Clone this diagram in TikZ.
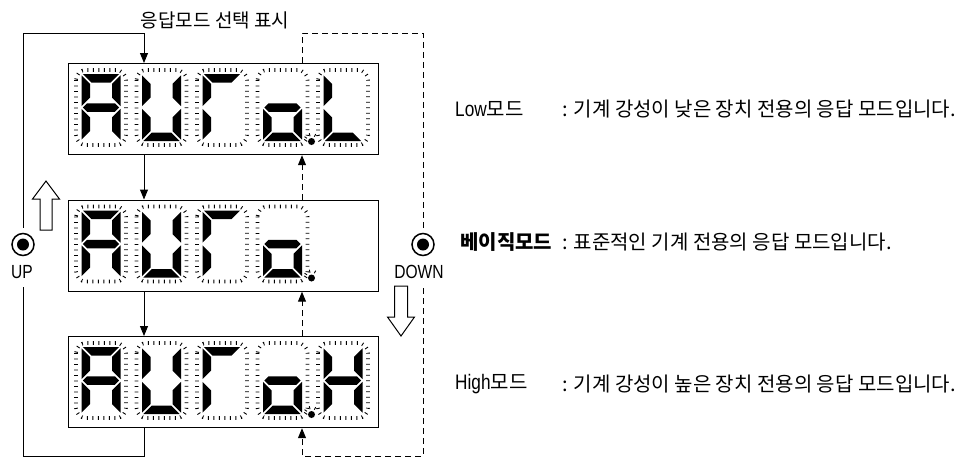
\documentclass[tikz,border=0pt]{standalone}
\usepackage{fontspec}
\usetikzlibrary{arrows.meta}
\newfontfamily\kr{Noto Sans CJK KR}
\newfontfamily\lat[FakeStretch=0.82]{Liberation Sans}
\tikzset{
  line/.style={line width=1pt},
  dispbox/.style={draw, line width=1.2pt, minimum width=310pt, minimum height=91pt, inner sep=0pt, anchor=north west},
  ringline/.style={line width=3.6pt, dash pattern=on 0.9pt off 4.6pt, rounded corners=10pt},
  conn/.style={line width=1pt, -{Triangle[length=10pt,width=8pt]}},
  dline/.style={line width=1pt, dash pattern=on 6pt off 4pt},
  dconn/.style={dline, -{Triangle[length=10pt,width=8pt]}},
  btn/.style={circle, draw, line width=1.5pt, minimum size=22pt, inner sep=0pt},
  ttxt/.style={font={\kr\fontsize{19pt}{21pt}\selectfont}, inner sep=0pt},
  ktxt/.style={font={\kr\fontsize{20pt}{22pt}\selectfont}, inner sep=0pt},
  ltxt/.style={font={\lat\fontsize{19pt}{21pt}\selectfont}, inner sep=0pt},
  ray/.style={line width=0.9pt},
  hollow/.style={draw, line width=1pt, fill=white},
}
\newcommand\sga[2]{\fill[shift={(#1,#2)}] (6.9,4)--(43.1,4)--(34.6,12.5)--(15.4,12.5)--cycle;}
\newcommand\sgb[2]{\fill[shift={(#1,#2)}] (44.5,5.4)--(36,13.9)--(36,27.6)--(44.5,36.1)--cycle;}
\newcommand\sgc[2]{\fill[shift={(#1,#2)}] (44.5,38.9)--(36,47.4)--(36,61.1)--(44.5,69.6)--cycle;}
\newcommand\sgd[2]{\fill[shift={(#1,#2)}] (6.9,71)--(43.1,71)--(34.6,62.5)--(15.4,62.5)--cycle;}
\newcommand\sge[2]{\fill[shift={(#1,#2)}] (5.5,38.9)--(14,47.4)--(14,61.1)--(5.5,69.6)--cycle;}
\newcommand\sgf[2]{\fill[shift={(#1,#2)}] (5.5,5.4)--(14,13.9)--(14,27.6)--(5.5,36.1)--cycle;}
\newcommand\sgg[2]{\fill[shift={(#1,#2)}] (6.9,37.5)--(11.15,33.25)--(38.85,33.25)--(43.1,37.5)--(38.85,41.75)--(11.15,41.75)--cycle;}
\newcommand\ringat[2]{\draw[ringline] (#1,#2) rectangle ++(50,75);}
\newcommand\digitat[3]{\ringat{#1}{#2}\foreach \s in {#3}{\csname sg\s\endcsname{#1}{#2}}}
\newcommand\decdot[2]{%
  \fill (#1,#2) circle (3.5pt);
  \foreach \a in {60,105,145}{\draw[ray] ([shift={(\a:5.5pt)}]#1,#2) -- ([shift={(\a:8.5pt)}]#1,#2);}}
\begin{document}
\begin{tikzpicture}[x=1pt,y=-1pt]
\useasboundingbox (0,0) rectangle (962,459);
% display boxes
\node[dispbox] (b1) at (68,63) {};
\node[dispbox] (b2) at (68,199.5) {};
\node[dispbox] (b3) at (68,336) {};
% top display: A U T o . L
\digitat{76}{70}{a,b,c,e,f,g}
\digitat{136.5}{70}{b,c,d,e,f}
\digitat{197}{70}{a,e,f}
\digitat{257.5}{70}{c,d,e,g}
\digitat{318}{70}{d,e,f}
\decdot{311.5}{141.5}
% middle display: A U T o .
\digitat{76}{206.5}{a,b,c,e,f,g}
\digitat{136.5}{206.5}{b,c,d,e,f}
\digitat{197}{206.5}{a,e,f}
\digitat{257.5}{206.5}{c,d,e,g}
\decdot{311.5}{278}
% bottom display: A U T o . H
\digitat{76}{343}{a,b,c,e,f,g}
\digitat{136.5}{343}{b,c,d,e,f}
\digitat{197}{343}{a,e,f}
\digitat{257.5}{343}{c,d,e,g}
\digitat{318}{343}{b,c,e,f,g}
\decdot{311.5}{414.5}
% buttons
\node[btn] (up) at (23,244.5) {};
\fill (up.center) circle (6pt);
\node[btn] (dn) at (423,244.5) {};
\fill (dn.center) circle (6pt);
\node[ltxt] (uplbl) at (22,272) {UP};
\node[ltxt] (dnlbl) at (419,272) {DOWN};
% corner coordinates
\coordinate (tl) at (23,33);
\coordinate (tm) at (144,33);
\coordinate (td) at (302,33);
\coordinate (tr) at (423,33);
\coordinate (bl) at (23,456);
\coordinate (bm) at (144,456);
\coordinate (bd) at (302,456);
\coordinate (br) at (423,456);
\coordinate (upb) at (23,287);
\coordinate (dnb) at (423,288);
% solid (UP) cycle
\draw[conn] ([yshift=5pt]up.north) -- (tl) -- (tm) -- (b1.north -| tm);
\draw[conn] (b1.south -| tm) -- (b2.north -| tm);
\draw[conn] (b2.south -| tm) -- (b3.north -| tm);
\draw[line] (b3.south -| tm) -- (bm) -- (bl) -- (upb);
% dashed (DOWN) cycle
\draw[dline] (b1.north -| td) -- (td) -- (tr) -- ([yshift=5pt]dn.north);
\draw[dconn] (dnb) -- (br) -- (bd) -- (b3.south -| bd);
\draw[dconn] (b3.north -| bd) -- (b2.south -| bd);
\draw[dconn] (b2.north -| bd) -- (b1.south -| bd);
% hollow arrows
\draw[hollow] (46,181) -- (59.5,199) -- (52,199) -- (52,230) -- (40,230) -- (40,199) -- (32.5,199) -- cycle;
\draw[hollow] (401,336) -- (414.5,317) -- (407.5,317) -- (407.5,286) -- (394.5,286) -- (394.5,317) -- (387.5,317) -- cycle;
% texts
\node[ttxt] (title) at (215,20) {응답모드 선택 표시};
\node[ktxt, anchor=west] (lowl) at (455,109) {{\lat\fontsize{21pt}{23pt}\selectfont Low}모드};
\node[ktxt, anchor=west] (lowd) at (562,109) {: 기계 강성이 낮은 장치 전용의 응답 모드입니다.};
\node[ktxt, anchor=west] (basl) at (460,242) {\bfseries 베이직모드};
\node[ktxt, anchor=west] (basd) at (562,242) {: 표준적인 기계 전용의 응답 모드입니다.};
\node[ktxt, anchor=west] (higl) at (455,384) {{\lat\fontsize{21pt}{23pt}\selectfont High}모드};
\node[ktxt, anchor=west] (higd) at (562,384) {: 기계 강성이 높은 장치 전용의 응답 모드입니다.};
\end{tikzpicture}
\end{document}
